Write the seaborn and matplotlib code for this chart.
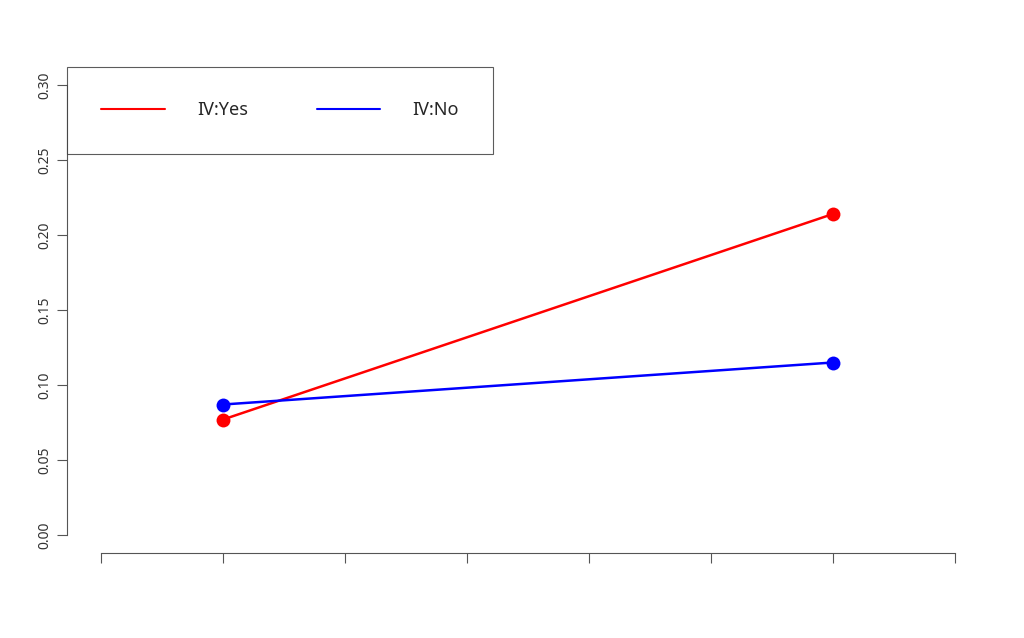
import matplotlib
matplotlib.use("Agg")
import matplotlib.pyplot as plt
import seaborn as sns
import pandas as pd

x_pos = [1, 6]
iv_yes = [0.077, 0.214]
iv_no = [0.087, 0.115]
y_ticks = [0.00, 0.05, 0.10, 0.15, 0.20, 0.25, 0.30]
x_ticks = [0, 1, 2, 3, 4, 5, 6, 7]

df = pd.DataFrame({
    "x": x_pos * 2,
    "y": iv_yes + iv_no,
    "grp": ["IV:Yes"] * 2 + ["IV:No"] * 2,
})

sns.set_style("white")
plt.rcParams['font.family'] = ['Noto Sans', 'DejaVu Sans']
fig = plt.figure(figsize=(10.24, 6.38), dpi=100)
ax = fig.add_axes([67/1024, 1 - 553/638, (989-67)/1024, (553-67)/638])
pal = {"IV:Yes": "#ff0000", "IV:No": "#0000ff"}
sns.lineplot(data=df, x="x", y="y", hue="grp", palette=pal, ax=ax, lw=1.8,
             marker="o", markersize=10, markeredgewidth=0, legend=False)
ax.set_xlim(-0.28, 7.28)
ax.set_ylim(-0.012, 0.312)
ax.set_xticks(x_ticks)
ax.set_xticklabels([])
ax.set_yticks(y_ticks)
ax.set_yticklabels([f"{v:.2f}" for v in y_ticks], rotation=90, va="center", fontsize=10, color="#333333")
ax.set_xlabel(""); ax.set_ylabel("")
for s in ["top", "right"]:
    ax.spines[s].set_visible(False)
ax.spines["left"].set_bounds(0, 0.3)
ax.spines["bottom"].set_bounds(0, 7)
for s in ["left", "bottom"]:
    ax.spines[s].set_color("#555555")
    ax.spines[s].set_linewidth(0.8)
ax.tick_params(direction="out", length=7, color="#555555", left=True, bottom=True)

from matplotlib.lines import Line2D
handles = [Line2D([], [], color="#ff0000", lw=1.5), Line2D([], [], color="#0000ff", lw=1.5)]
leg = ax.legend(handles, ["IV:Yes", "IV:No"], ncol=2, loc="upper left", bbox_to_anchor=(0, 1),
                borderaxespad=0, fancybox=False, frameon=True, fontsize=13,
                handlelength=3.5, columnspacing=3.8, borderpad=1.9, handletextpad=1.8)
leg.get_frame().set_edgecolor("#333333")
leg.get_frame().set_linewidth(0.8)
fig.savefig("out.png", dpi=100)
